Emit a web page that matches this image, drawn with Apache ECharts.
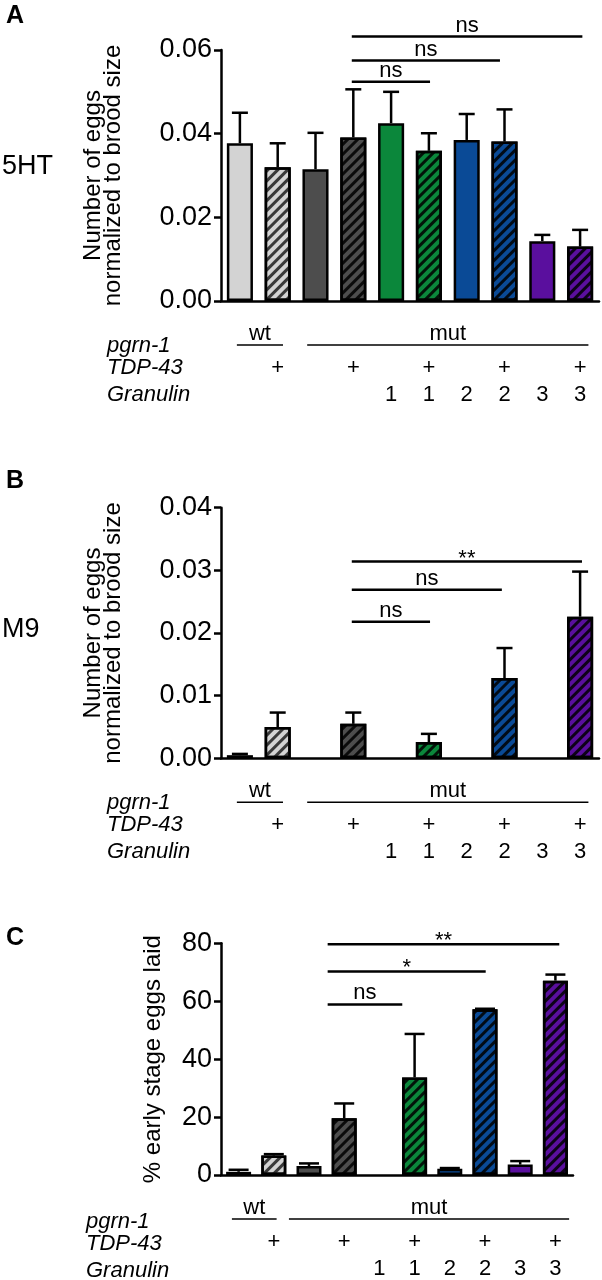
<!DOCTYPE html>
<html>
<head>
<meta charset="utf-8">
<script src="https://cdn.jsdelivr.net/npm/echarts@6/dist/echarts.min.js"></script>
<style>
  html, body { margin: 0; padding: 0; background: #fff; }
  #chart { width: 602px; height: 1280px; }
</style>
</head>
<body>
<div id="chart"></div>
<script>
// strains, left to right (pgrn-1 background / TDP-43 / Granulin)
const categories = ['wt', 'wt;TDP-43', 'mut', 'mut;TDP-43', 'mut;Grn1', 'mut;TDP-43;Grn1',
  'mut;Grn2', 'mut;TDP-43;Grn2', 'mut;Grn3', 'mut;TDP-43;Grn3'];
const tdpRow = ['', '+', '', '+', '', '+', '', '+', '', '+'];
const granulinRow = ['', '', '', '', '1', '1', '2', '2', '3', '3'];
const barColors = ['#d3d3d3', '#d3d3d3', '#4d4d4d', '#4d4d4d', '#0b873b', '#0b873b',
  '#0a4a96', '#0a4a96', '#5a0f9e', '#5a0f9e'];
const hatched = [false, true, false, true, false, true, false, true, false, true];

// A: 5HT
const values5HT = [0.0377, 0.0320, 0.0315, 0.0391, 0.0425, 0.0359, 0.0385, 0.0381, 0.0143, 0.0130];
const sem5HT = [0.0073, 0.0057, 0.0087, 0.0115, 0.0075, 0.0042, 0.0062, 0.0077, 0.0015, 0.0040];
const brackets5HT = [[2.96, 5.03, 0.0524, 'ns'], [2.96, 6.88, 0.0575, 'ns'], [2.96, 9.06, 0.0632, 'ns']];
const groups5HT = [[-0.08, 1.14, 'wt'], [1.78, 9.22, 'mut']];

// B: M9
const valuesM9 = [0.0005, 0.0050, null, 0.0055, null, 0.0026, null, 0.0128, null, 0.0226];
const semM9 = [0.0002, 0.0023, null, 0.0018, null, 0.0013, null, 0.0048, null, 0.0072];
const bracketsM9 = [[2.96, 5.03, 0.0218, 'ns'], [2.96, 6.93, 0.0269, 'ns'], [2.96, 9.05, 0.0314, '**']];
const groupsM9 = [[-0.08, 1.14, 'wt'], [1.78, 9.22, 'mut']];

// C: % early stage eggs
const valuesEarly = [1.1, 6.7, 3.1, 19.6, null, 33.7, 2.2, 57.2, 3.6, 67.1];
const semEarly = [0.7, 0.5, 0.9, 5.1, null, 15.0, 0.2, 0.2, 1.2, 2.1];
const bracketsEarly = [[2.53, 4.65, 58.9, 'ns'], [2.53, 7.02, 70.3, '*'], [2.53, 9.11, 79.7, '**']];
const groupsEarly = [[-0.19, 1.08, 'wt'], [1.43, 9.39, 'mut']];

const FONT = 'Liberation Sans, Arial, sans-serif';
const H = 1280;

const panels = [
  { letter: 'A', tag: '5HT', tagY: 167, base: 301, top: 50, left: 221, right: 3, max: 0.06, interval: 0.02, digits: 2,
    yTitle: 'Number of eggs\nnormalized to brood size', nameGap: 98, cap: 16, barWidth: '69%', rowX: 107, letterY: 4,
    values: values5HT, sem: sem5HT, brackets: brackets5HT, groups: groups5HT },
  { letter: 'B', tag: 'M9', tagY: 630, base: 758.3, top: 507.7, left: 221, right: 3, max: 0.04, interval: 0.01, digits: 2,
    yTitle: 'Number of eggs\nnormalized to brood size', nameGap: 98, cap: 16, barWidth: '69%', rowX: 107, letterY: 469,
    values: valuesM9, sem: semM9, brackets: bracketsM9, groups: groupsM9 },
  { letter: 'C', tag: '', tagY: 0, base: 1177.3, top: 943.3, left: 221, right: 29, max: 80, interval: 20, digits: 0,
    yTitle: '% early stage eggs laid', nameGap: 58, cap: 20, barWidth: '71%', rowX: 86, letterY: 926,
    values: valuesEarly, sem: semEarly, brackets: bracketsEarly, groups: groupsEarly }
];

const black = { color: '#000', width: 2.5 };
const grids = [], xAxes = [], yAxes = [], series = [], graphics = [];

panels.forEach((p, k) => {
  grids.push({ left: p.left, right: p.right, top: p.top, bottom: H - p.base });

  xAxes.push({
    gridIndex: k, type: 'category', data: categories,
    axisLine: { onZero: false, lineStyle: black },
    axisTick: { alignWithLabel: true, length: 7, lineStyle: black },
    axisLabel: { show: false }
  });
  xAxes.push({ gridIndex: k, type: 'value', min: -0.5, max: 9.5, show: false });
  xAxes.push({
    gridIndex: k, type: 'category', data: tdpRow, position: 'bottom', offset: 56,
    axisLine: { show: false, onZero: false }, axisTick: { show: false },
    axisLabel: { interval: 0, margin: 0, fontSize: 22, color: '#000', fontFamily: FONT }
  });
  xAxes.push({
    gridIndex: k, type: 'category', data: granulinRow, position: 'bottom', offset: 83,
    axisLine: { show: false, onZero: false }, axisTick: { show: false },
    axisLabel: { interval: 0, margin: 0, fontSize: 22, color: '#000', fontFamily: FONT }
  });

  yAxes.push({
    gridIndex: k, type: 'value', min: 0, max: p.max, interval: p.interval,
    name: p.yTitle, nameLocation: 'middle', nameGap: p.nameGap, nameRotate: 90,
    nameTextStyle: { fontSize: 24, lineHeight: 20, color: '#000', fontFamily: FONT },
    axisLine: { show: true, onZero: false, lineStyle: black },
    axisTick: { show: true, length: 7, lineStyle: black },
    axisLabel: { margin: 9, fontSize: 27, color: '#000', fontFamily: FONT,
      formatter: v => v.toFixed(p.digits) },
    splitLine: { show: false }
  });

  const xi = k * 4;
  series.push({
    type: 'bar', xAxisIndex: xi, yAxisIndex: k, barWidth: p.barWidth,
    itemStyle: { borderColor: '#000', borderWidth: 2.5 },
    data: p.values.map((v, i) => v == null ? null : {
      value: v,
      itemStyle: {
        color: barColors[i],
        decal: hatched[i] ? {
          symbol: 'rect', symbolSize: 1, dashArrayX: [1, 0], dashArrayY: [3, 4],
          rotation: -Math.PI / 4, color: i === 1 ? 'rgba(40,40,40,0.9)' : 'rgba(0,0,0,0.85)'
        } : null
      }
    })
  });

  series.push({
    type: 'custom', xAxisIndex: xi, yAxisIndex: k, clip: false, z: 1,
    data: p.values.map((v, i) => [i, v, p.sem[i]]).filter(d => d[1] != null),
    renderItem: (params, api) => {
      const i = api.value(0), v = api.value(1), s = api.value(2);
      const a = api.coord([i, v]);
      const b = api.coord([i, v + s]);
      const h = p.cap / 2;
      return { type: 'group', children: [
        { type: 'line', shape: { x1: a[0], y1: a[1], x2: b[0], y2: b[1] }, style: { stroke: '#000', lineWidth: 2.5 } },
        { type: 'line', shape: { x1: b[0] - h, y1: b[1], x2: b[0] + h, y2: b[1] }, style: { stroke: '#000', lineWidth: 2.5 } }
      ] };
    }
  });

  series.push({
    type: 'custom', xAxisIndex: xi + 1, yAxisIndex: k, clip: false,
    encode: { x: [0, 1], y: 2 },
    data: p.brackets.map(b => [b[0], b[1], b[2]]),
    renderItem: (params, api) => {
      const a = api.coord([api.value(0), api.value(2)]);
      const b = api.coord([api.value(1), api.value(2)]);
      const label = p.brackets[params.dataIndex][3];
      const stars = label.indexOf('*') >= 0;
      return { type: 'group', children: [
        { type: 'line', shape: { x1: a[0], y1: a[1], x2: b[0], y2: b[1] }, style: { stroke: '#000', lineWidth: 2.5 } },
        { type: 'text', x: (a[0] + b[0]) / 2, y: a[1] + (stars ? 8 : 0),
          style: { text: label, align: 'center', verticalAlign: 'bottom', fill: '#000',
            font: '22px ' + FONT } }
      ] };
    }
  });

  series.push({
    type: 'custom', xAxisIndex: xi + 1, yAxisIndex: k, clip: false,
    encode: { x: [0, 1], y: 2 },
    data: p.groups.map(g => [g[0], g[1], 0]),
    renderItem: (params, api) => {
      const a = api.coord([api.value(0), 0]);
      const b = api.coord([api.value(1), 0]);
      const y = a[1] + 44;
      return { type: 'group', children: [
        { type: 'line', shape: { x1: a[0], y1: y, x2: b[0], y2: y }, style: { stroke: '#000', lineWidth: 1.5 } },
        { type: 'text', x: (a[0] + b[0]) / 2, y: a[1] + 33,
          style: { text: p.groups[params.dataIndex][2], align: 'center', verticalAlign: 'middle',
            fill: '#000', font: '22px ' + FONT } }
      ] };
    }
  });

  graphics.push({ type: 'text', x: 6, y: p.letterY,
    style: { text: p.letter, font: 'bold 25px ' + FONT, fill: '#000' } });
  if (p.tag) {
    graphics.push({ type: 'text', x: 2, y: p.tagY,
      style: { text: p.tag, font: '27px ' + FONT, fill: '#000', verticalAlign: 'middle' } });
  }
  [['pgrn-1', 44.5], ['TDP-43', 67], ['Granulin', 94]].forEach(r => {
    graphics.push({ type: 'text', x: p.rowX, y: p.base + r[1],
      style: { text: r[0], font: 'italic 22px ' + FONT, fill: '#000', verticalAlign: 'middle' } });
  });
});

const chart = echarts.init(document.getElementById('chart'));
chart.setOption({
  animation: false,
  backgroundColor: '#fff',
  grid: grids,
  xAxis: xAxes,
  yAxis: yAxes,
  series: series,
  graphic: graphics
});
window.addEventListener('resize', () => chart.resize());
</script>
</body>
</html>
